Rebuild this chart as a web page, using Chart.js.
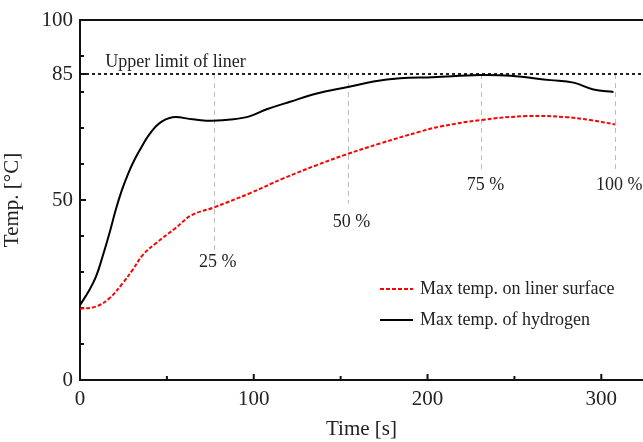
<!DOCTYPE html>
<html>
<head>
<meta charset="utf-8">
<script src="https://cdn.jsdelivr.net/npm/chart.js@4"></script>
<style>
    body { margin: 0; background: #fff; overflow: hidden; }
</style>
</head>
<body>
<canvas id="tempChart" width="643" height="442"></canvas>
<script>
// dados
const tempoHidrogenio = [0, 5.4, 9.2, 13, 16.9, 20.7, 24, 27.8, 31.5, 35.5, 40, 45.6, 53.3, 64.8, 76.3, 88.3, 97.9, 107.5, 120.9, 136.3, 153.5, 168.9, 184.2, 203, 230, 247.6, 270.6, 284, 295.5, 307];
const tempHidrogenio = [20.8, 25, 28.7, 34.3, 40.7, 47.5, 52.6, 57.4, 61.3, 64.8, 68.3, 71.3, 73, 72.4, 72, 72.4, 73.3, 75.2, 77.3, 79.6, 81.3, 82.9, 83.8, 84.1, 84.7, 84.5, 83.3, 82.6, 80.7, 80];

const tempoLiner = [0, 9.2, 16.9, 24.6, 30.3, 36.1, 43.7, 54.7, 64.3, 76.8, 97.9, 117, 136.3, 153.5, 172.7, 195.7, 207.3, 230.3, 257.1, 280.2, 293.6, 308];
const tempLiner = [19.8, 20.4, 22.7, 26.9, 30.6, 34.7, 38, 42.1, 45.8, 47.9, 51.9, 56, 59.7, 62.7, 65.7, 69, 70.4, 72.2, 73.3, 73, 72.2, 71];

const ticksY = [0, 10, 20, 30, 40, 50, 60, 70, 80, 85, 90, 100];
const labelsY = [0, 50, 85, 100];
const ticksX = [0, 50, 100, 150, 200, 250, 300];
const labelsX = [0, 100, 200, 300];

const limiteLiner = 85;
const marcasTempo = [77, 154, 231, 308];
const marcasTexto = ['25 %', '50 %', '75 %', '100 %'];
const marcasFim = [36, 49, 58.3, 58.3];
const marcasTextoY = [32.8, 43.9, 54.2, 54.2];

const fonte = "'Liberation Serif', 'Times New Roman', serif";

function serie(tempos, valores) {
    let pontos = [];
    for (let i = 0; i < tempos.length; i++) {
        pontos.push({ x: tempos[i], y: valores[i] });
    }
    return pontos;
}

// linhas de referencia, marcas internas e legenda
const extras = {
    id: 'extras',
    beforeDatasetsDraw(chart) {
        const ctx = chart.ctx;
        const x = chart.scales.x;
        const y = chart.scales.y;
        const area = chart.chartArea;
        ctx.save();

        // linhas verticais cinzas
        ctx.strokeStyle = '#bdbdbd';
        ctx.lineWidth = 1;
        ctx.setLineDash([5, 4]);
        for (let i = 0; i < marcasTempo.length; i++) {
            const px = Math.round(x.getPixelForValue(marcasTempo[i])) + 0.5;
            ctx.beginPath();
            ctx.moveTo(px, y.getPixelForValue(limiteLiner));
            ctx.lineTo(px, y.getPixelForValue(marcasFim[i]));
            ctx.stroke();
        }

        // limite superior
        ctx.strokeStyle = '#222';
        ctx.lineWidth = 2;
        ctx.setLineDash([3, 3]);
        const py = y.getPixelForValue(limiteLiner);
        ctx.beginPath();
        ctx.moveTo(area.left, py);
        ctx.lineTo(area.right, py);
        ctx.stroke();
        ctx.setLineDash([]);

        ctx.fillStyle = '#222';
        ctx.font = '18px ' + fonte;
        ctx.textBaseline = 'bottom';
        ctx.textAlign = 'left';
        ctx.fillText('Upper limit of liner', x.getPixelForValue(14.5), py - 3);

        ctx.textAlign = 'center';
        ctx.textBaseline = 'middle';
        for (let i = 0; i < marcasTempo.length; i++) {
            ctx.fillText(marcasTexto[i], x.getPixelForValue(marcasTempo[i]) + 4, y.getPixelForValue(marcasTextoY[i]));
        }

        // marcas dos eixos para dentro
        ctx.strokeStyle = '#111';
        ctx.lineWidth = 2;
        for (const v of ticksY) {
            const ty = y.getPixelForValue(v);
            const len = labelsY.includes(v) ? 6 : 4;
            ctx.beginPath();
            ctx.moveTo(area.left, ty);
            ctx.lineTo(area.left + len, ty);
            ctx.stroke();
        }
        for (const v of ticksX) {
            const tx = x.getPixelForValue(v);
            const len = labelsX.includes(v) ? 6 : 4;
            ctx.beginPath();
            ctx.moveTo(tx, area.bottom);
            ctx.lineTo(tx, area.bottom - len);
            ctx.stroke();
        }
        ctx.restore();
    },
    afterDatasetsDraw(chart) {
        const ctx = chart.ctx;
        ctx.save();
        ctx.font = '18px ' + fonte;
        ctx.textAlign = 'left';
        ctx.textBaseline = 'middle';
        const linhasY = [289, 320];
        chart.data.datasets.forEach(function (ds, i) {
            const ly = linhasY[i];
            ctx.strokeStyle = ds.borderColor;
            ctx.lineWidth = ds.borderWidth;
            ctx.setLineDash(ds.borderDash || []);
            ctx.beginPath();
            ctx.moveTo(380, ly);
            ctx.lineTo(413, ly);
            ctx.stroke();
            ctx.setLineDash([]);
            ctx.fillStyle = '#222';
            ctx.fillText(ds.label, 420, ly);
        });
        ctx.restore();
    }
};

const dados = {
    datasets: [{
        label: 'Max temp. on liner surface',
        data: serie(tempoLiner, tempLiner),
        borderColor: 'rgb(255, 0, 0)',
        borderWidth: 2,
        borderDash: [4, 2],
        pointRadius: 0,
        tension: 0.4,
        fill: false
    },
    {
        label: 'Max temp. of hydrogen',
        data: serie(tempoHidrogenio, tempHidrogenio),
        borderColor: 'rgb(0, 0, 0)',
        borderWidth: 2,
        pointRadius: 0,
        tension: 0.4,
        fill: false
    }]
};

const config = {
    type: 'line',
    data: dados,
    options: {
        responsive: false,
        animation: false,
        layout: { padding: { top: 20, right: 0, left: 0, bottom: 0 } },
        plugins: {
            legend: { display: false },
            tooltip: { enabled: false }
        },
        scales: {
            x: {
                type: 'linear',
                min: 0,
                max: 324,
                afterBuildTicks: function (scale) {
                    scale.ticks = ticksX.map(v => ({ value: v }));
                },
                afterFit: function (scale) { scale.height = 62; },
                grid: { display: false, drawTicks: false },
                border: { display: true, color: '#111', width: 2 },
                ticks: {
                    autoSkip: false,
                    maxRotation: 0,
                    padding: 7,
                    color: '#222',
                    font: { family: fonte, size: 21 },
                    callback: v => labelsX.includes(v) ? String(v) : ''
                },
                title: {
                    display: true,
                    text: 'Time [s]',
                    color: '#222',
                    font: { family: fonte, size: 21 },
                    padding: { top: 2, bottom: 0 }
                }
            },
            x2: {
                type: 'linear',
                position: 'top',
                min: 0,
                max: 324,
                afterFit: function (scale) { scale.height = 0; },
                grid: { display: false, drawTicks: false },
                border: { display: true, color: '#111', width: 2 },
                ticks: { display: false }
            },
            y: {
                min: 0,
                max: 100,
                afterBuildTicks: function (scale) {
                    scale.ticks = ticksY.map(v => ({ value: v }));
                },
                afterFit: function (scale) { scale.width = 80; },
                grid: { display: false, drawTicks: false },
                border: { display: true, color: '#111', width: 2 },
                ticks: {
                    autoSkip: false,
                    padding: 7,
                    color: '#222',
                    font: { family: fonte, size: 21 },
                    callback: v => labelsY.includes(v) ? String(v) : ''
                },
                title: {
                    display: true,
                    text: 'Temp. [°C]',
                    color: '#222',
                    font: { family: fonte, size: 21 },
                    padding: { top: 0, bottom: 0 }
                }
            }
        }
    },
    plugins: [extras]
};

let grafico = new Chart(document.getElementById('tempChart'), config);
</script>
</body>
</html>
